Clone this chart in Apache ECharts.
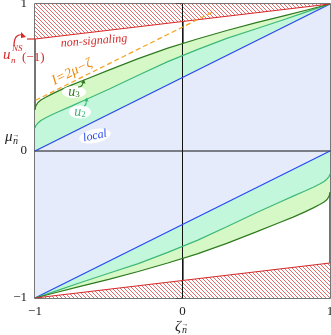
<!DOCTYPE html>
<html>
<head>
<meta charset="utf-8">
<script src="https://cdn.jsdelivr.net/npm/echarts@6/dist/echarts.min.js"></script>
<style>
html,body{margin:0;padding:0;background:#fff;}
#main{width:331px;height:335px;}
</style>
</head>
<body>
<div id="main"></div>
<script>
// upper bound curves
var zeta    = [-1, -0.995, -0.98, -0.96, -0.93, -0.89, -0.83, -0.75, -0.65, -0.5, -0.3, -0.1, 0.1, 0.3, 0.5, 0.7, 0.85, 1];
var u3Upper = [0.279, 0.305, 0.330, 0.347, 0.364, 0.385, 0.414, 0.450, 0.490, 0.550, 0.628, 0.700, 0.762, 0.820, 0.873, 0.923, 0.961, 1];
var u2Upper = [0.156, 0.172, 0.190, 0.207, 0.225, 0.245, 0.272, 0.307, 0.352, 0.420, 0.515, 0.608, 0.690, 0.766, 0.832, 0.898, 0.950, 1];
// lower bound curves
var zetaLow = [-1, -0.85, -0.7, -0.5, -0.3, -0.1, 0.1, 0.3, 0.5, 0.65, 0.75, 0.83, 0.89, 0.93, 0.96, 0.98, 0.995, 1];
var u3Lower = [-1, -0.961, -0.923, -0.873, -0.820, -0.762, -0.700, -0.628, -0.550, -0.490, -0.450, -0.414, -0.385, -0.364, -0.347, -0.330, -0.305, -0.279];
var u2Lower = [-1, -0.950, -0.898, -0.832, -0.766, -0.690, -0.608, -0.515, -0.420, -0.352, -0.307, -0.272, -0.245, -0.225, -0.207, -0.190, -0.172, -0.156];
// straight boundaries
var localUpper = [[-1, 0], [1, 1]];
var localLower = [[-1, -1], [1, 0]];
var nsUpper = [[-1, 0.762], [1, 1]];
var nsLower = [[-1, -1], [1, -0.762]];
var tangent = [[-1.19, 0.248], [0.2, 0.943]];

function zip(xs, ys){ return xs.map(function(x, i){ return [x, ys[i]]; }); }
var u3Up = zip(zeta, u3Upper), u2Up = zip(zeta, u2Upper);
var u3Lo = zip(zetaLow, u3Lower), u2Lo = zip(zetaLow, u2Lower);

// hatch pattern
var pc = document.createElement('canvas');
pc.width = 4; pc.height = 4;
var cx = pc.getContext('2d');
cx.fillStyle = '#fff'; cx.fillRect(0, 0, 4, 4);
cx.strokeStyle = 'rgba(222,70,70,0.8)'; cx.lineWidth = 1;
cx.beginPath(); cx.moveTo(-1, -1); cx.lineTo(5, 5); cx.stroke();
var hatch = {image: pc, repeat: 'repeat'};

function area(pts, fill, z){
  return {
    type: 'custom', silent: true, z: z || 1, data: [[0, 0]],
    renderItem: function(params, api){
      return {type: 'polygon', shape: {points: pts.map(function(p){ return api.coord(p); })},
              style: {fill: fill}};
    }
  };
}
function line(data, color, extra){
  var s = {type: 'line', data: data, showSymbol: false, silent: true, z: 3,
           lineStyle: {color: color, width: 1.2}};
  for (var k in extra) s[k] = extra[k];
  return s;
}

var chart = echarts.init(document.getElementById('main'));
var serif = "'Liberation Serif', 'DejaVu Serif', serif";
var minus = function(v){ return String(v).replace('-', '\u2212'); };

chart.setOption({
  animation: false,
  grid: {left: 35, right: 1, top: 4, bottom: 37, show: true, borderColor: '#4a4a4a', borderWidth: 1.5, outerBoundsMode: 'none'},
  xAxis: {type: 'value', min: -1, max: 1, interval: 1,
    axisLine: {lineStyle: {color: '#444', width: 1.5}},
    axisTick: {show: false}, splitLine: {show: false},
    axisLabel: {margin: 7, fontFamily: serif, fontSize: 13, color: '#222', formatter: minus}},
  yAxis: {type: 'value', min: -1, max: 1, interval: 1,
    axisLine: {lineStyle: {color: '#444', width: 1.5}},
    axisTick: {show: true, length: 7, lineStyle: {color: '#444', width: 1.5}}, splitLine: {show: false},
    axisLabel: {margin: 8, fontFamily: serif, fontSize: 13, color: '#222', formatter: minus}},
  series: [
    area([localUpper[0], localUpper[1], localLower[1], localLower[0]], '#e6ebfb'),
    area(u2Up.concat(localUpper.slice().reverse()), '#c2f7dc'),
    area(u3Up.concat(u2Up.slice().reverse()), '#d6f8c6'),
    area(u2Lo.concat(localLower.slice().reverse()), '#c2f7dc'),
    area(u3Lo.concat(u2Lo.slice().reverse()), '#d6f8c6'),
    area(nsUpper.concat([[-1, 1]]), hatch),
    area(nsLower.concat([[1, -1]]), hatch),
    line([[0, -1], [0, 1]], '#111', {lineStyle: {color: '#111', width: 1}, z: 2}),
    line([[-1, 0], [1, 0]], '#111', {lineStyle: {color: '#111', width: 1}, z: 2}),
    line(localUpper, '#2448f0'),
    line(localLower, '#2448f0'),
    line(u2Up, '#3cb878'),
    line(u2Lo, '#3cb878'),
    line(u3Up, '#2f7a1f'),
    line(u3Lo, '#2f7a1f'),
    line(nsUpper, '#d42a2a'),
    line(nsLower, '#d42a2a'),
    line(tangent, '#f5a21c', {clip: false, lineStyle: {color: '#f5a21c', width: 1.2, type: [5, 3]}})
  ],
  graphic: [
    {type: 'line', shape: {x1: 27, y1: 39, x2: 35, y2: 39}, style: {stroke: '#d42a2a', lineWidth: 1.2}, z: 10},
    {type: 'bezierCurve', shape: {x1: 14, y1: 46, cpx1: 14, cpy1: 33, x2: 23, y2: 35}, style: {stroke: '#d42a2a', lineWidth: 1.2, fill: null}, z: 10},
    {type: 'polygon', shape: {points: [[26, 37], [21, 32], [21, 38]]}, style: {fill: '#d42a2a'}, z: 10},
    {type: 'text', x: 3, y: 55, z: 10, style: {text: 'u', font: 'italic 15px ' + serif, fill: '#d42a2a', verticalAlign: 'middle'}},
    {type: 'text', x: 11, y: 61, z: 10, style: {text: 'n', font: 'italic 9px ' + serif, fill: '#d42a2a', verticalAlign: 'middle'}},
    {type: 'text', x: 12, y: 49, z: 10, style: {text: 'NS', font: 'italic 9px ' + serif, fill: '#d42a2a', verticalAlign: 'middle'}},
    {type: 'text', x: 22, y: 58, z: 10, style: {text: '(\u22121)', font: '13px ' + serif, fill: '#d42a2a', verticalAlign: 'middle'}},
    {type: 'text', x: 94, y: 41, rotation: 0.08, z: 10, style: {text: 'non-signaling', font: 'italic 12px ' + serif, fill: '#d42a2a', align: 'center', verticalAlign: 'middle'}},
    {type: 'text', x: 72, y: 72, rotation: 0.46, z: 10, style: {text: 'I=2\u03bc\u2212\u03b6', font: 'italic 14px ' + serif, fill: '#ee8a0a', align: 'center', verticalAlign: 'middle'}},
    {type: 'ellipse', shape: {cx: 74, cy: 92, rx: 12, ry: 6}, style: {fill: '#fff'}, z: 9},
    {type: 'text', x: 74, y: 92, z: 10, style: {text: '{a|u}{b|3}', fill: '#2f7a1f', align: 'center', verticalAlign: 'middle',
      rich: {a: {font: 'italic 14px ' + serif, fill: '#2f7a1f'}, b: {font: '9px ' + serif, fill: '#2f7a1f', padding: [6, 0, 0, 0]}}}},
    {type: 'bezierCurve', shape: {x1: 78, y1: 87, cpx1: 83, cpy1: 87, x2: 83, y2: 82}, style: {stroke: '#2f7a1f', lineWidth: 1.1, fill: null}, z: 10},
    {type: 'polygon', shape: {points: [[84, 79.5], [81, 83], [85.5, 83.5]]}, style: {fill: '#2f7a1f'}, z: 10},
    {type: 'ellipse', shape: {cx: 80, cy: 112, rx: 11, ry: 6.5}, style: {fill: '#fff'}, z: 9},
    {type: 'text', x: 80, y: 112, z: 10, style: {text: '{a|u}{b|2}', fill: '#3cb878', align: 'center', verticalAlign: 'middle',
      rich: {a: {font: 'italic 14px ' + serif, fill: '#3cb878'}, b: {font: '9px ' + serif, fill: '#3cb878', padding: [6, 0, 0, 0]}}}},
    {type: 'bezierCurve', shape: {x1: 84, y1: 106, cpx1: 87, cpy1: 105, x2: 86, y2: 100}, style: {stroke: '#3cb878', lineWidth: 1.1, fill: null}, z: 10},
    {type: 'polygon', shape: {points: [[87, 97.5], [84, 101], [88.5, 101.5]]}, style: {fill: '#3cb878'}, z: 10},
    {type: 'ellipse', shape: {cx: 95, cy: 136, rx: 16, ry: 7}, rotation: 0.2, originX: 95, originY: 136, style: {fill: '#fff'}, z: 9},
    {type: 'text', x: 95, y: 136, rotation: 0.2, z: 10, style: {text: 'local', font: 'italic 12px ' + serif, fill: '#2448f0', align: 'center', verticalAlign: 'middle'}},
    {type: 'text', x: 5, y: 137, z: 10, style: {text: '\u03bc', font: 'italic 15px ' + serif, fill: '#222', verticalAlign: 'middle'}},
    {type: 'text', x: 13, y: 141, z: 10, style: {text: 'n', font: 'italic 10px ' + serif, fill: '#222', verticalAlign: 'middle'}},
    {type: 'text', x: 12.5, y: 135.5, z: 10, style: {text: '\u2192', font: '7px ' + serif, fill: '#222', verticalAlign: 'middle'}},
    {type: 'text', x: 175, y: 327, z: 10, style: {text: '\u03b6', font: 'italic 15px ' + serif, fill: '#222', verticalAlign: 'middle'}},
    {type: 'text', x: 182, y: 330, z: 10, style: {text: 'n', font: 'italic 10px ' + serif, fill: '#222', verticalAlign: 'middle'}},
    {type: 'text', x: 181.5, y: 324.5, z: 10, style: {text: '\u2192', font: '7px ' + serif, fill: '#222', verticalAlign: 'middle'}}
  ]
});
</script>
</body>
</html>
